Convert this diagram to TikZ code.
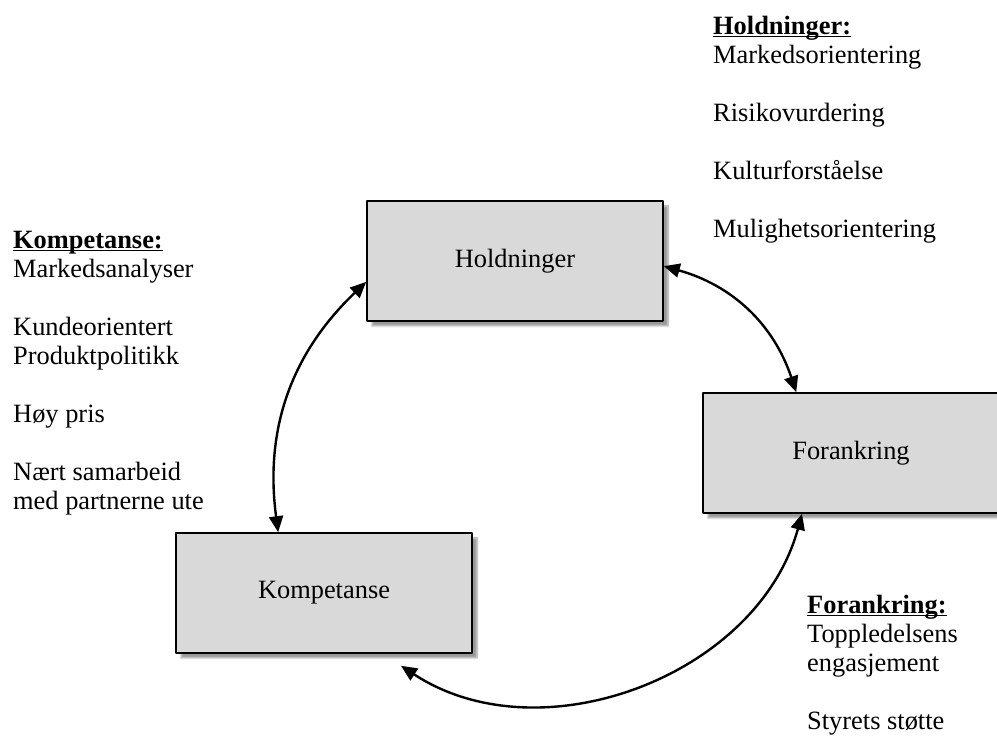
\documentclass[tikz,border=0pt]{standalone}
\usepackage{fontspec}
\setmainfont{Liberation Serif}
\usetikzlibrary{arrows.meta,shadows.blur}
\definecolor{boxgray}{HTML}{D9D9D9}
\newcommand{\ulhead}[1]{\underline{\smash{\textbf{#1}}}}
\begin{document}
\begin{tikzpicture}[x=1pt,y=1pt,line join=round,>={Triangle[length=16pt,width=14pt]},font=\fontsize{26.4}{29}\selectfont]
  \tikzset{box/.style={draw,line width=1.6pt,fill=boxgray,minimum width=296pt,minimum height=120pt,
             blur shadow={shadow xshift=5pt,shadow yshift=-5pt,shadow blur steps=6}},
           notes/.style={align=left,anchor=base west,inner sep=0pt},
           link/.style={<->,line width=2.4pt}}
  \useasboundingbox (0,0) rectangle (997,736);
  % the three boxes
  \node[box] (hol) at (515,475) {Holdninger};
  \node[box] (for) at (851,283) {Forankring};
  \node[box] (kom) at (324,143) {Kompetanse};
  % notes beside the boxes (placed by the baseline of their last line)
  \node[notes] (holnotes) at (713,498) {\ulhead{Holdninger:}\\ Markedsorientering\\[29pt] Risikovurdering\\[29pt] Kulturforståelse\\[29pt] Mulighetsorientering};
  \node[notes] (komnotes) at (13,226) {\ulhead{Kompetanse:}\\ Markedsanalyser\\[29pt] Kundeorientert\\ Produktpolitikk\\[29pt] Høy pris\\[29pt] Nært samarbeid\\ med partnerne ute};
  \node[notes] (fornotes) at (807,6) {\ulhead{Forankring:}\\ Toppledelsens\\ engasjement\\[29pt] Styrets støtte};
  % the cycle
  \draw[link] (hol.-2) to[bend left=28] (for.132);
  \draw[link] (hol.188) to[bend right=27] (kom.127);
  \draw[link] ([shift={(77,-12)}]kom.south) to[bend right=54] ([xshift=-49pt]for.south);
\end{tikzpicture}
\end{document}
